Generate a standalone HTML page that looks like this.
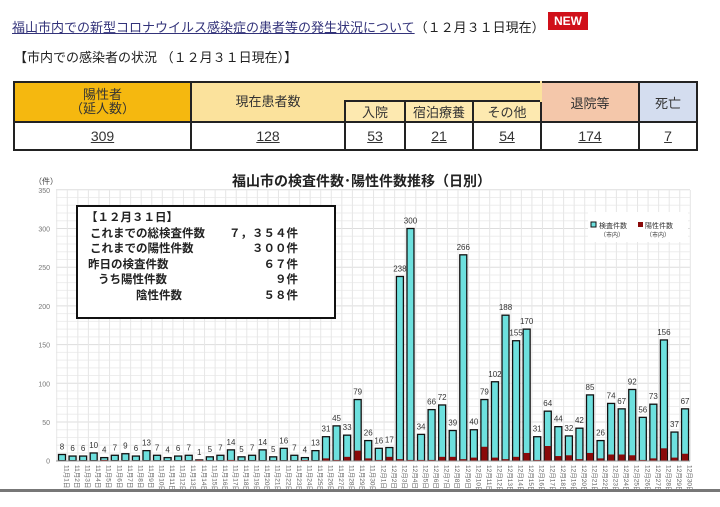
<!DOCTYPE html>
<html><head><meta charset="utf-8"><style>
body{margin:0;width:720px;height:504px;background:#fff;overflow:hidden;font-family:"Liberation Sans","Noto Sans CJK JP",sans-serif;position:relative}
.a{position:absolute;white-space:nowrap}
table{position:absolute;left:13px;top:81px;border-collapse:collapse;font-size:13px;color:#333}
td{border:2px solid #222;text-align:center;padding:0}
</style></head><body>
<div class="a" style="left:12px;top:17px;font-size:13px;color:#222"><span style="color:#1a0dab;text-decoration:underline;color:#33337a">福山市内での新型コロナウイルス感染症の患者等の発生状況について</span>（１２月３１日現在）</div>
<div class="a" style="left:548px;top:12px;width:40px;height:18px;background:#d0101a;color:#fff;font-size:12px;font-weight:bold;text-align:center;line-height:18px">NEW</div>
<div class="a" style="left:14px;top:47px;font-size:13px;color:#222">【市内での感染者の状況 （１２月３１日現在）】</div>
<table>
<tr style="height:19px"><td rowspan="2" style="width:175px;background:#f5b80f;line-height:14px">陽性者<br>（延人数）</td><td colspan="4" style="background:#fbe29c;border-bottom:none;border-right:2px solid #fbe29c"></td><td rowspan="2" style="width:96px;background:#f4c7aa">退院等</td><td rowspan="2" style="width:56px;background:#d4ddef">死亡</td></tr>
<tr style="height:20px"><td style="width:152px;background:#fbe29c;border-top:none;position:relative"><span style="position:relative;top:-11px">現在患者数</span></td><td style="width:58px;background:#fde9b0">入院</td><td style="width:66px;background:#fde9b0">宿泊療養</td><td style="width:66px;background:#fde9b0">その他</td></tr>
<tr style="height:28px;font-size:14px"><td><u>309</u></td><td><u>128</u></td><td><u>53</u></td><td><u>21</u></td><td><u>54</u></td><td><u>174</u></td><td><u>7</u></td></tr>
</table>
<svg id="c" class="a" style="left:0;top:0" width="720" height="504" font-family="Liberation Sans,Noto Sans CJK JP,sans-serif"></svg>
<div class="a" style="left:232px;top:171px;font-size:14px;font-weight:bold;color:#222">福山市の検査件数･陽性件数推移（日別）</div>
<div class="a" style="left:34px;top:176px;font-size:8px;color:#444">（件）</div>
<div class="a" style="left:76px;top:205px;width:256px;height:106px;border:2px solid #111;background:#fff;font-size:11.5px;font-weight:bold;color:#222;line-height:15.5px;padding-top:4px">
<div style="padding-left:8px">【１２月３１日】</div>
<div style="padding-left:12px">これまでの総検査件数<span style="position:absolute;right:36px">７，３５４件</span></div>
<div style="padding-left:12px">これまでの陽性件数<span style="position:absolute;right:36px">３００件</span></div>
<div style="padding-left:10px">昨日の検査件数<span style="position:absolute;right:36px">６７件</span></div>
<div style="padding-left:20px">うち陽性件数<span style="position:absolute;right:36px">９件</span></div>
<div style="padding-left:58px">陰性件数<span style="position:absolute;right:36px">５８件</span></div>
</div>
<div class="a" style="left:0;top:489px;width:720px;height:15px;background:#fff;border-top:3px solid #777"></div>
<script>
var T=[8,6,6,10,4,7,9,6,13,7,4,6,7,1,5,7,14,5,7,14,5,16,7,4,13,31,45,33,79,26,16,17,238,300,34,66,72,39,266,40,79,102,188,155,170,31,64,44,32,42,85,26,74,67,92,56,73,156,37,67];
var P=[0,0,0,0,1,0,0,0,0,0,0,0,0,1,0,0,1,0,0,0,0,0,0,1,0,3,1,5,13,3,1,5,2,1,1,1,5,5,2,4,18,4,2,5,10,1,19,6,7,2,10,3,8,8,7,1,3,16,4,9];
var s='',y=v=>460.7-v*0.774,x0=62,dx=10.56;
for(var v=0;v<=350;v+=10){var yy=y(v);s+='<line x1="56" x2="690" y1="'+yy+'" y2="'+yy+'" stroke="'+(v%50?'#eee':'#ddd')+'"/>';if(v%50==0)s+='<text x="50" y="'+(yy+3)+'" font-size="7" fill="#777" text-anchor="end">'+v+'</text>';}
for(var i=0;i<=60;i++){var xx=x0-dx/2+i*dx;s+='<line x1="'+xx+'" x2="'+xx+'" y1="190" y2="461" stroke="#e6e6e6"/>';}
s+='<rect x="588" y="212" width="100" height="30" fill="#fff"/>';
for(i=0;i<60;i++){var cx=x0+i*dx;s+='<rect x="'+(cx-3.5)+'" y="'+y(T[i])+'" width="7" height="'+(T[i]*0.774)+'" fill="#6de0de" stroke="#111" stroke-width="1.3"/>';
if(P[i])s+='<rect x="'+(cx-3)+'" y="'+y(P[i])+'" width="6" height="'+(P[i]*0.774)+'" fill="#8a0a0a"/>';
s+='<text x="'+cx+'" y="'+(y(T[i])-5)+'" font-size="8" fill="#333" text-anchor="middle">'+T[i]+'</text>';
var m=i<30?11:12,d=i<30?i+1:i-29;
s+='<text transform="translate('+(cx+2.5)+',465) rotate(90)" font-size="6.5" fill="#666">'+m+'月'+d+'日</text>';}
s+='<line x1="56" x2="690" y1="461" y2="461" stroke="#999"/>';
s+='<rect x="591" y="222" width="5" height="5" fill="#6de0de" stroke="#111"/><text x="599" y="228" font-size="7" fill="#333">検査件数</text><text x="600" y="237" font-size="6" fill="#333">（市内）</text>';
s+='<rect x="638" y="222" width="5" height="5" fill="#8a0a0a"/><text x="645" y="228" font-size="7" fill="#333">陽性件数</text><text x="646" y="237" font-size="6" fill="#333">（市内）</text>';
document.getElementById('c').innerHTML=s;
</script>
</body></html>
